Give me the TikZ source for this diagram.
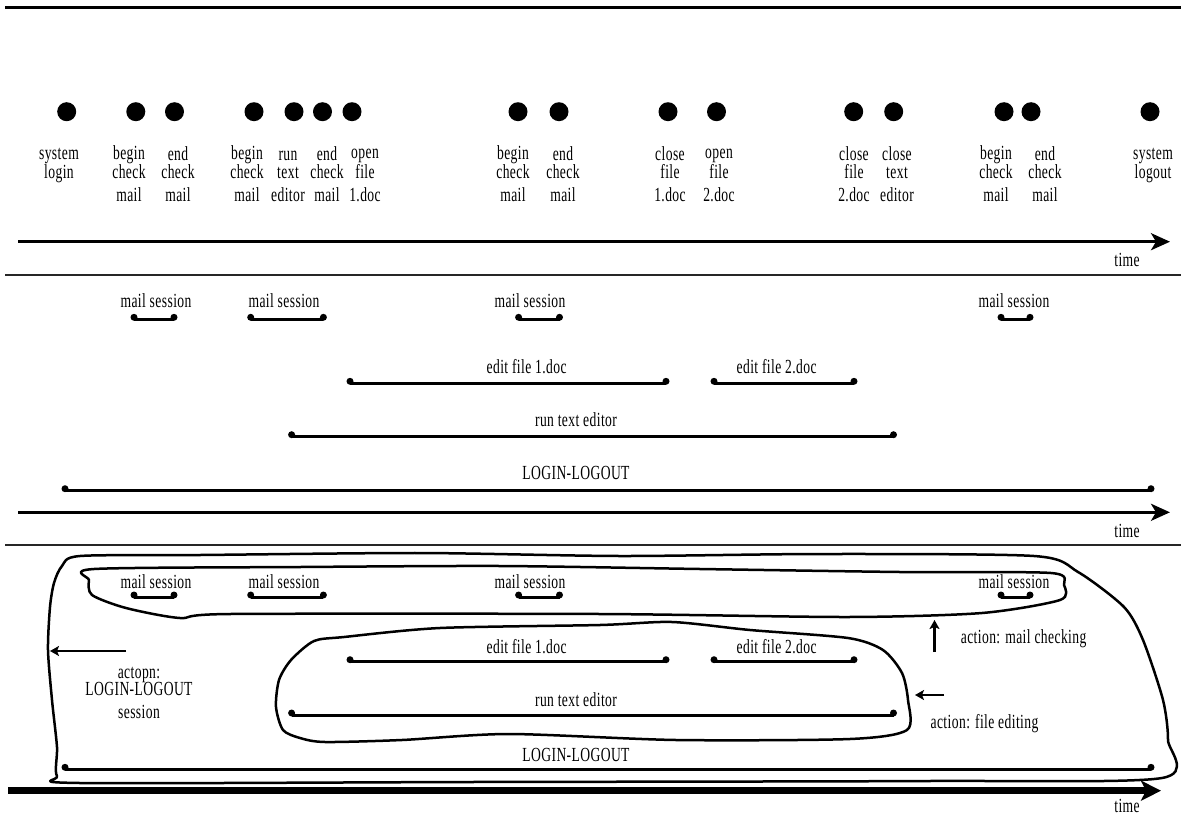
\documentclass[tikz,border=0pt]{standalone}
\usepackage{fontspec}
\setmainfont{Liberation Serif}[FakeStretch=0.68,LetterSpace=2]
\usetikzlibrary{arrows.meta}
\tikzset{
 evdot/.style={circle,fill=black,inner sep=0pt,minimum size=19pt},
 edot/.style={circle,fill=black,inner sep=0pt,minimum size=7pt},
 lbl/.style={font=\fontsize{20}{17.6}\selectfont,align=center,anchor=base,inner sep=0pt},
 ivl/.style={line width=3pt},
 axis/.style={line width=3pt,-{Stealth[length=19pt,width=17pt,inset=5pt]}},
 thickaxis/.style={line width=7pt,-{Stealth[length=20pt,width=20pt,inset=5pt]}},
 sep/.style={line width=2pt,draw=black!85},
 topsep/.style={line width=3pt},
 blob/.style={line width=2.5pt,line join=round},
 act/.style={line width=2.2pt,-{Stealth[length=9pt,width=10pt,inset=2pt]}},
}
\newcommand\ivl[4]{%
  \node[edot] (#1a) at (#2,{#4-2}) {};
  \node[edot] (#1b) at (#3,{#4-2}) {};
  \draw[ivl] ([yshift=-2pt]#1a.center) -- ([yshift=-2pt]#1b.center);
}
\begin{document}
\begin{tikzpicture}[x=1pt,y=-1pt]
\useasboundingbox (0,0) rectangle (1181,819);
% separators
\coordinate (s0a) at (5,7);   \coordinate (s0b) at (1181,7);
\coordinate (s1a) at (5,275); \coordinate (s1b) at (1181,275);
\coordinate (s2a) at (5,545); \coordinate (s2b) at (1181,545);
\draw[topsep] (s0a) -- (s0b);
\draw[sep] (s1a) -- (s1b);
\draw[sep] (s2a) -- (s2b);

% ---------- section 1: events ----------
\foreach \n/\x in {1/66.7,2/135.8,3/174.5,4/254,5/294,6/322.5,7/352,8/518,9/559,10/668,11/716.5,12/853.7,13/893.7,14/1004,15/1031,16/1150}
  \node[evdot] (e\n) at (\x,111.7) {};
\node[lbl] (l1)  at (59,178.3)   {system\\login};
\node[lbl] (l2)  at (129,201.7)  {begin\\check\\[5.8pt]mail};
\node[lbl] (l3)  at (178,201.7)  {end\\check\\[5.8pt]mail};
\node[lbl] (l4)  at (247,201.7)  {begin\\check\\[5.8pt]mail};
\node[lbl] (l5)  at (288,201.7)  {run\\text\\[5.8pt]editor};
\node[lbl] (l6)  at (327,201.7)  {end\\check\\[5.8pt]mail};
\node[lbl] (l7)  at (365,201.7)  {open\\file\\[5.8pt]1.doc};
\node[lbl] (l8)  at (513,201.7)  {begin\\check\\[5.8pt]mail};
\node[lbl] (l9)  at (563,201.7)  {end\\check\\[5.8pt]mail};
\node[lbl] (l10) at (670,201.7)  {close\\file\\[5.8pt]1.doc};
\node[lbl] (l11) at (719,201.7)  {open\\file\\[5.8pt]2.doc};
\node[lbl] (l12) at (854,201.7)  {close\\file\\[5.8pt]2.doc};
\node[lbl] (l13) at (897,201.7)  {close\\text\\[5.8pt]editor};
\node[lbl] (l14) at (996,201.7)  {begin\\check\\[5.8pt]mail};
\node[lbl] (l15) at (1045,201.7) {end\\check\\[5.8pt]mail};
\node[lbl] (l16) at (1153,178.3) {system\\logout};
\coordinate (t1a) at (18,241.7); \coordinate (t1b) at (1170,241.7);
\draw[axis] (t1a) -- (t1b);
\node[lbl] (tl1) at (1127,266.7) {time};

% ---------- section 2: intervals ----------
\node[lbl] (ms1) at (156,307.3) {mail session};
\node[lbl] (ms2) at (284,307.3) {mail session};
\node[lbl] (ms3) at (530,307.3) {mail session};
\node[lbl] (ms4) at (1014,307.3) {mail session};
\ivl{ma}{134}{174}{319.3}
\ivl{mb}{250.7}{323.4}{319.3}
\ivl{mc}{518.6}{559.5}{319.3}
\ivl{md}{1001}{1030}{319.3}
\node[lbl] (ef1) at (526.6,373.3) {edit file 1.doc};
\node[lbl] (ef2) at (776.6,373.3) {edit file 2.doc};
\ivl{fa}{350}{666}{383.3}
\ivl{fb}{714}{854}{383.3}
\node[lbl] (rte) at (576,426) {run text editor};
\ivl{ra}{291.6}{893.5}{436.7}
\node[lbl] (ll) at (576,479.3) {LOGIN-LOGOUT};
\ivl{la}{65}{1151}{490.7}
\coordinate (t2a) at (18,512.3); \coordinate (t2b) at (1170,512.3);
\draw[axis] (t2a) -- (t2b);
\node[lbl] (tl2) at (1127,537) {time};

% ---------- section 3: grouped ----------
\node[lbl] (bms1) at (156,588.3) {mail session};
\node[lbl] (bms2) at (284,588.3) {mail session};
\node[lbl] (bms3) at (530,588.3) {mail session};
\node[lbl] (bms4) at (1014,588.3) {mail session};
\ivl{bma}{134}{174}{597}
\ivl{bmb}{250.7}{323.4}{597}
\ivl{bmc}{518.6}{559.5}{597}
\ivl{bmd}{1001}{1030}{597}
\node[lbl] (bef1) at (526.6,653.3) {edit file 1.doc};
\node[lbl] (bef2) at (776.6,653.3) {edit file 2.doc};
\ivl{bfa}{350}{666}{661.7}
\ivl{bfb}{714}{854}{661.7}
\node[lbl] (brte) at (576,706.7) {run text editor};
\ivl{bra}{291.6}{893.5}{715}
\node[lbl] (bll) at (576,761.7) {LOGIN-LOGOUT};
\ivl{bla}{65}{1151}{769.3}
\coordinate (t3a) at (8,790.7); \coordinate (t3b) at (1161,790.7);
\draw[thickaxis] (t3a) -- (t3b);
\node[lbl] (tl3) at (1127,812) {time};

% blobs
\draw[blob] plot[smooth cycle,tension=0.45] coordinates {
 (80,556) (200,555) (420,553) (620,556) (820,554) (1034,556) (1078,572)
 (1124,607) (1143,640) (1163,700) (1168,740) (1162,778) (929,781) (470,782)
 (80,783) (57,776) (57,747) (52,700) (48,650) (50,607) (54,583) (62,566)};
\draw[blob] plot[smooth cycle,tension=0.45] coordinates {
 (94,569) (300,567) (500,566) (700,569) (900,572) (1051,573) (1064,585)
 (1060,600) (982,613) (848,617) (600,614) (230,614) (180,618) (126,608)
 (92,595) (89,580)};
\draw[blob] plot[smooth cycle,tension=0.45] coordinates {
 (440,628) (600,625) (672,622) (750,630) (848,638) (883,650) (902,673)
 (908,700) (907,730) (850,739) (676,740) (509,734) (402,740) (325,742)
 (300,738) (283,730) (276,707) (279,680) (291,660) (314,641) (344,637)};

% action arrows and labels
\coordinate (a1a) at (126,651); \coordinate (a1b) at (50,651);
\draw[act] (a1a) -- (a1b);
\node[lbl] (al1) at (139,718.3) {actopn:\\LOGIN-LOGOUT\\[4.8pt]session};
\coordinate (a2a) at (934.5,652); \coordinate (a2b) at (934.5,620);
\draw[act] (a2a) -- (a2b);
\node[lbl] (al2) at (1023.6,643.3) {action: mail checking};
\coordinate (a3a) at (944,695); \coordinate (a3b) at (915,695);
\draw[act] (a3a) -- (a3b);
\node[lbl] (al3) at (984.5,728.3) {action: file editing};
\end{tikzpicture}
\end{document}
